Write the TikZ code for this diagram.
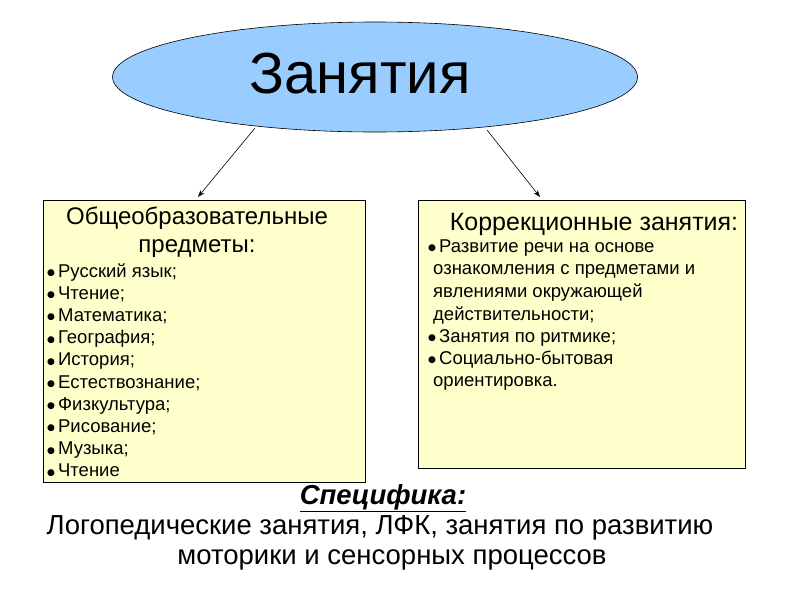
\documentclass[tikz,border=0pt]{standalone}
\usepackage{fontspec}
\setmainfont{Liberation Sans}
\usetikzlibrary{shapes.geometric,arrows.meta}
\definecolor{ellblue}{HTML}{99CCFF}
\definecolor{boxyel}{HTML}{FFFFCC}
\newfontfamily\dejavu{DejaVu Sans}
\newcommand{\bl}{{\dejavu\fontsize{9}{9}\selectfont\raisebox{1.5pt}{●}}}
\tikzset{
  panel/.style={draw=black, fill=boxyel, line width=0.6pt},
  item/.style={anchor=west, inner sep=0pt, text height=12pt, text depth=4pt, font=\fontsize{18.5}{20}\selectfont},
  arr/.style={-{Stealth[length=7pt,width=5pt]}, line width=0.6pt}
}
\begin{document}
\begin{tikzpicture}[x=1pt,y=-1pt]
\useasboundingbox (0,0) rectangle (794,595);
\node[ellipse, draw, fill=ellblue, line width=0.6pt, minimum width=525pt, minimum height=110pt] (ell) at (375,77) {};
\node[font=\fontsize{58}{60}\selectfont, inner sep=0pt] (title) at (360,74) {Занятия};
\draw[panel] (43,200) rectangle (365,482);
\draw[panel] (418,200) rectangle (745,468);
\coordinate (lb) at (198,197);
\coordinate (rb) at (540,197);
\coordinate (la) at (255,128);
\coordinate (ra) at (487,130);
\draw[arr] (la) -- (lb);
\draw[arr] (ra) -- (rb);
\node[align=center, font=\fontsize{24}{28}\selectfont, inner sep=0pt] (lt) at (197,232) {Общеобразовательные\\предметы:};
\foreach \t [count=\i from 0] in {Русский язык;, Чтение;, Математика;, География;, История;, Естествознание;, Физкультура;, Рисование;, Музыка;, Чтение}
  \node[item] (li\i) at (47,{273+22.2*\i}) {\bl\,\t};
\node[font=\fontsize{25}{28}\selectfont, inner sep=0pt] (rt) at (594,224) {Коррекционные занятия:};
\node[item] (r0) at (428,248) {\bl\,Развитие речи на основе};
\node[item] (r1) at (433,270) {ознакомления с предметами и};
\node[item] (r2) at (433,293) {явлениями окружающей};
\node[item] (r3) at (433,316) {действительности;};
\node[item] (r4) at (428,338) {\bl\,Занятия по ритмике;};
\node[item] (r5) at (428,360) {\bl\,Социально-бытовая};
\node[item] (r6) at (433,382) {ориентировка.};
\node[font=\fontsize{27.5}{30}\selectfont\bfseries\itshape, inner sep=0pt] (sp) at (383,498) {\underline{Специфика:}};
\node[font=\fontsize{27.5}{30}\selectfont, inner sep=0pt] (b1) at (380,528) {Логопедические занятия, ЛФК, занятия по развитию};
\node[font=\fontsize{27.5}{30}\selectfont, inner sep=0pt] (b2) at (392,560) {моторики и сенсорных процессов};
\end{tikzpicture}
\end{document}
